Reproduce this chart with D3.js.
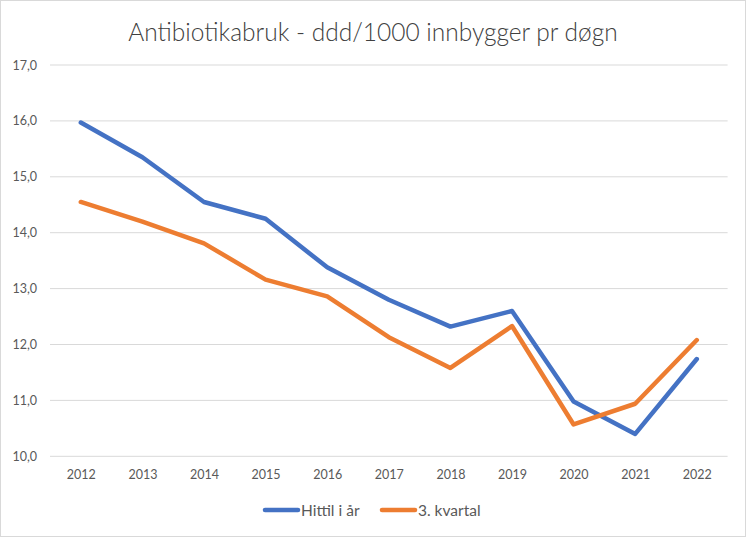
<!DOCTYPE html>
<html><head><meta charset="utf-8">
<script src="https://cdn.jsdelivr.net/npm/d3@7"></script>
<style>body{margin:0;background:#fff}svg{display:block}</style>
</head><body>
<script>
const years = ["2012","2013","2014","2015","2016","2017","2018","2019","2020","2021","2022"];
const hittil = [15.97,15.35,14.55,14.25,13.38,12.80,12.32,12.60,10.98,10.40,11.74];
const kvartal = [14.55,14.20,13.81,13.16,12.86,12.13,11.58,12.33,10.57,10.94,12.08];
const yTicks = [10,11,12,13,14,15,16,17];
const seriesNames = ["Hittil i år","3. kvartal"];
const colors = ["#4472C4","#ED7D31"];
const title = "Antibiotikabruk - ddd/1000 innbygger pr døgn";

const W=746,H=537;
const svg=d3.select("body").append("svg").attr("width",W).attr("height",H);
svg.append("rect").attr("x",0.5).attr("y",0.5).attr("width",W-1).attr("height",H-1)
  .attr("fill","#fff").attr("stroke","#d9d9d9");
const font="Lato, 'Open Sans', sans-serif";
const x=d3.scalePoint().domain(years).range([50,727.6]).padding(0.5);
const y=d3.scaleLinear().domain([10,17]).range([456.3,65]);

const grid=svg.append("g");
yTicks.forEach(t=>{
  grid.append("line").attr("x1",50).attr("x2",727.6).attr("y1",y(t)).attr("y2",y(t))
    .attr("stroke","#d9d9d9").attr("stroke-width",1);
});
const yAxis=d3.axisLeft(y).tickValues(yTicks).tickSize(0).tickPadding(13)
  .tickFormat(d=>d3.format(".1f")(d).replace(".",","));
const ya=svg.append("g").attr("transform","translate(50,0)").call(yAxis);
ya.select(".domain").remove();
ya.selectAll("text").attr("fill","#595959").style("font-family",font).style("font-size","12.5px");

const xAxis=d3.axisBottom(x).tickSize(0).tickPadding(14);
const xa=svg.append("g").attr("transform","translate(0,456.3)").call(xAxis);
xa.select(".domain").remove();
xa.selectAll("text").attr("fill","#595959").style("font-family",font).style("font-size","12.5px");

const line=d3.line().x((d,i)=>x(years[i])).y(d=>y(d));
[hittil,kvartal].forEach((s,k)=>{
  svg.append("path").datum(s).attr("d",line).attr("fill","none")
    .attr("stroke",colors[k]).attr("stroke-width",4.5)
    .attr("stroke-linejoin","round").attr("stroke-linecap","round");
});

svg.append("text").attr("x",373).attr("y",41).attr("text-anchor","middle")
  .attr("fill","#404040").style("font-family",font).style("font-weight","300")
  .style("font-size","24.5px").text(title);

const legX=[263,380];
seriesNames.forEach((n,k)=>{
  svg.append("line").attr("x1",legX[k]+2).attr("x2",legX[k]+35).attr("y1",510).attr("y2",510)
    .attr("stroke",colors[k]).attr("stroke-width",4.5).attr("stroke-linecap","round");
  svg.append("text").attr("x",legX[k]+38).attr("y",515.5).attr("fill","#595959")
    .style("font-family",font).style("font-size","15.5px").text(n);
});
</script>
</body></html>
